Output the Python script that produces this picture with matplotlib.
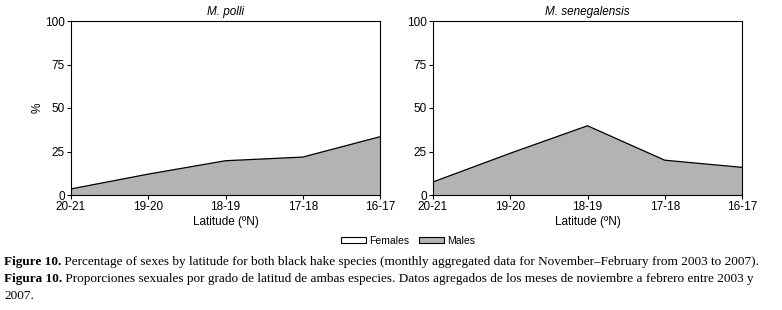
import numpy as np
import matplotlib
matplotlib.use('Agg')
import matplotlib.pyplot as plt
from matplotlib.patches import Patch

# data
latitudes = ['20-21', '19-20', '18-19', '17-18', '16-17']
males_polli = [3.5, 12.0, 19.7, 21.8, 33.5]
males_seneg = [7.5, 24.0, 39.8, 20.0, 15.9]
species = ['M. polli', 'M. senegalensis']

W, H = 782, 310
fig = plt.figure(figsize=(W / 100, H / 100), dpi=100)
fig.patch.set_facecolor('white')

narrow = ['Liberation Sans Narrow', 'Liberation Sans', 'DejaVu Sans']
serif = ['Liberation Serif', 'DejaVu Serif']

def px_axes(x0, y0, x1, y1):
    return fig.add_axes([x0 / W, 1 - y1 / H, (x1 - x0) / W, (y1 - y0) / H])

boxes = [(71, 21, 380, 195), (433, 21, 742, 195)]
x = np.arange(len(latitudes))

for i, (box, males, name) in enumerate(zip(boxes, [males_polli, males_seneg], species)):
    ax = px_axes(*box)
    males = np.array(males)
    ax.fill_between(x, 0, males, facecolor='#b3b3b3', edgecolor='none')
    ax.fill_between(x, males, 100, facecolor='white', edgecolor='none')
    ax.plot(x, males, color='black', lw=0.9)
    ax.set_xlim(0, len(latitudes) - 1)
    ax.set_ylim(0, 100)
    ax.set_xticks(x)
    ax.set_xticklabels(latitudes, fontfamily=narrow, fontsize=8.5)
    ax.set_yticks([0, 25, 50, 75, 100])
    ax.set_yticklabels(['0', '25', '50', '75', '100'], fontfamily=narrow, fontsize=8.5)
    ax.tick_params(direction='out', length=3, width=0.8, pad=1.5)
    for s in ax.spines.values():
        s.set_linewidth(0.8)
    ax.set_title(name, fontfamily=narrow, fontsize=8.5, style='italic', pad=4)
    ax.set_xlabel('Latitude (ºN)', fontfamily=narrow, fontsize=8.5, labelpad=2)
    if i == 0:
        ax.set_ylabel('%', fontfamily=narrow, fontsize=8.5, labelpad=1)

handles = [Patch(facecolor='white', edgecolor='black', lw=0.8, label='Females'),
           Patch(facecolor='#b3b3b3', edgecolor='black', lw=0.8, label='Males')]
fig.legend(handles=handles, loc='center', bbox_to_anchor=(408 / W, 1 - 241 / H),
           ncol=2, frameon=False, prop={'family': narrow, 'size': 7.5},
           handlelength=2.4, handleheight=0.55, columnspacing=0.9, handletextpad=0.3)

captions = [
    ('Figure 10.', ' Percentage of sexes by latitude for both black hake species (monthly aggregated data for November\u2013February from 2003 to 2007).', 262),
    ('Figura 10.', ' Proporciones sexuales por grado de latitud de ambas especies. Datos agregados de los meses de noviembre a febrero entre 2003 y', 279),
    ('', '2007.', 296),
]
fig.canvas.draw()
renderer = fig.canvas.get_renderer()
for bold, rest, yc in captions:
    xpos = 4 / W
    if bold:
        t = fig.text(xpos, 1 - yc / H, bold, fontfamily=serif, fontsize=9.5,
                     fontweight='bold', va='center', ha='left')
        bb = t.get_window_extent(renderer)
        xpos = bb.x1 / W
    fig.text(xpos, 1 - yc / H, rest, fontfamily=serif, fontsize=9.5,
             va='center', ha='left')

fig.savefig('out.png', dpi=100)
